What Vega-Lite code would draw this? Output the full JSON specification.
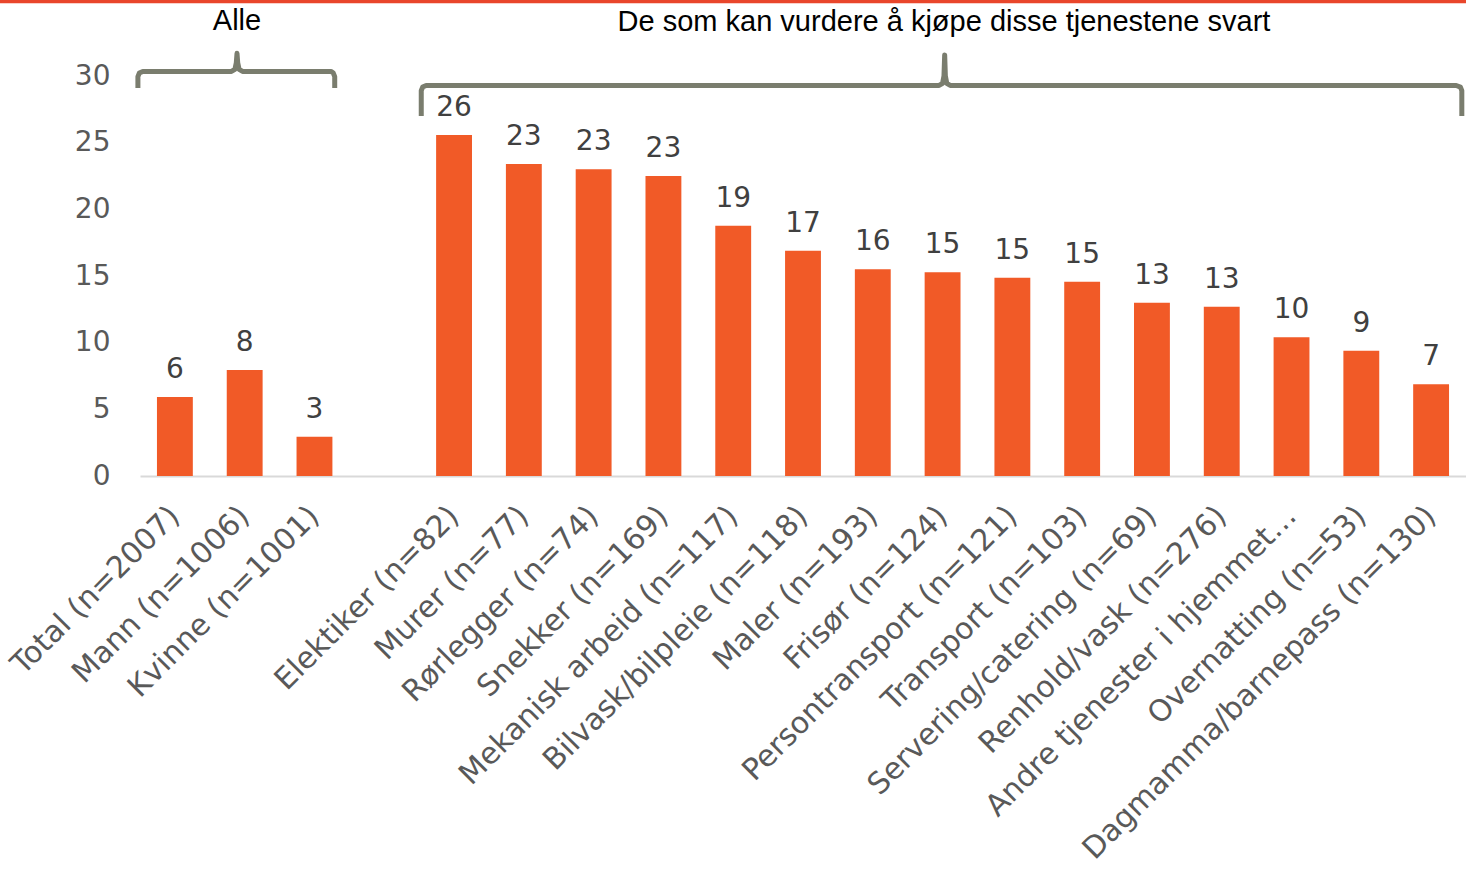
{
  "$schema": "https://vega.github.io/schema/vega-lite/v6.json",
  "autosize": "none",
  "width": 1326,
  "height": 400,
  "padding": {"left": 140, "top": 76, "right": 0, "bottom": 396},
  "config": {"view": {"stroke": null}, "font": "DejaVu Sans"},
  "datasets": {
    "bars": [
      {"kategori": "Total (n=2007)", "verdi": 5.93, "etikett": "6"},
      {"kategori": "Mann (n=1006)", "verdi": 7.95, "etikett": "8"},
      {"kategori": "Kvinne (n=1001)", "verdi": 2.94, "etikett": "3"},
      {"kategori": "Elektiker (n=82)", "verdi": 25.58, "etikett": "26"},
      {"kategori": "Murer (n=77)", "verdi": 23.4, "etikett": "23"},
      {"kategori": "Rørlegger (n=74)", "verdi": 23.0, "etikett": "23"},
      {"kategori": "Snekker (n=169)", "verdi": 22.5, "etikett": "23"},
      {"kategori": "Mekanisk arbeid (n=117)", "verdi": 18.77, "etikett": "19"},
      {"kategori": "Bilvask/bilpleie (n=118)", "verdi": 16.9, "etikett": "17"},
      {"kategori": "Maler (n=193)", "verdi": 15.5, "etikett": "16"},
      {"kategori": "Frisør (n=124)", "verdi": 15.28, "etikett": "15"},
      {"kategori": "Persontransport (n=121)", "verdi": 14.87, "etikett": "15"},
      {"kategori": "Transport (n=103)", "verdi": 14.57, "etikett": "15"},
      {"kategori": "Servering/catering (n=69)", "verdi": 13.0, "etikett": "13"},
      {"kategori": "Renhold/vask (n=276)", "verdi": 12.7, "etikett": "13"},
      {"kategori": "Andre tjenester i hjemmet…", "verdi": 10.4, "etikett": "10"},
      {"kategori": "Overnatting (n=53)", "verdi": 9.4, "etikett": "9"},
      {"kategori": "Dagmamma/barnepass (n=130)", "verdi": 6.88, "etikett": "7"}
    ],
    "brackets": [
      {"gruppe": "Alle", "rekkefolge": 1, "x": -0.03, "y": 29.1},
      {"gruppe": "Alle", "rekkefolge": 2, "x": -0.03, "y": 29.95},
      {"gruppe": "Alle", "rekkefolge": 3, "x": -0.01, "y": 30.22},
      {"gruppe": "Alle", "rekkefolge": 4, "x": 0.04, "y": 30.34},
      {"gruppe": "Alle", "rekkefolge": 5, "x": 1.31, "y": 30.34},
      {"gruppe": "Alle", "rekkefolge": 6, "x": 1.36, "y": 30.5},
      {"gruppe": "Alle", "rekkefolge": 7, "x": 1.38, "y": 31.0},
      {"gruppe": "Alle", "rekkefolge": 8, "x": 1.39, "y": 31.7},
      {"gruppe": "Alle", "rekkefolge": 9, "x": 1.40, "y": 31.0},
      {"gruppe": "Alle", "rekkefolge": 10, "x": 1.42, "y": 30.5},
      {"gruppe": "Alle", "rekkefolge": 11, "x": 1.47, "y": 30.34},
      {"gruppe": "Alle", "rekkefolge": 12, "x": 2.74, "y": 30.34},
      {"gruppe": "Alle", "rekkefolge": 13, "x": 2.77, "y": 30.22},
      {"gruppe": "Alle", "rekkefolge": 14, "x": 2.79, "y": 29.95},
      {"gruppe": "Alle", "rekkefolge": 15, "x": 2.79, "y": 29.1},
      {"gruppe": "Svart", "rekkefolge": 1, "x": 4.03, "y": 27.0},
      {"gruppe": "Svart", "rekkefolge": 2, "x": 4.03, "y": 28.9},
      {"gruppe": "Svart", "rekkefolge": 3, "x": 4.05, "y": 29.17},
      {"gruppe": "Svart", "rekkefolge": 4, "x": 4.10, "y": 29.29},
      {"gruppe": "Svart", "rekkefolge": 5, "x": 11.45, "y": 29.29},
      {"gruppe": "Svart", "rekkefolge": 6, "x": 11.50, "y": 29.45},
      {"gruppe": "Svart", "rekkefolge": 7, "x": 11.52, "y": 30.0},
      {"gruppe": "Svart", "rekkefolge": 8, "x": 11.53, "y": 31.58},
      {"gruppe": "Svart", "rekkefolge": 9, "x": 11.54, "y": 30.0},
      {"gruppe": "Svart", "rekkefolge": 10, "x": 11.56, "y": 29.45},
      {"gruppe": "Svart", "rekkefolge": 11, "x": 11.61, "y": 29.29},
      {"gruppe": "Svart", "rekkefolge": 12, "x": 18.86, "y": 29.29},
      {"gruppe": "Svart", "rekkefolge": 13, "x": 18.92, "y": 29.17},
      {"gruppe": "Svart", "rekkefolge": 14, "x": 18.94, "y": 28.9},
      {"gruppe": "Svart", "rekkefolge": 15, "x": 18.94, "y": 27.0}
    ],
    "titler": [
      {"tekst": "Alle", "x": 1.39, "y": 34.1},
      {"tekst": "De som kan vurdere å kjøpe disse tjenestene svart", "x": 11.52, "y": 34.05}
    ],
    "topplinje": [
      {"x": -2.1, "x2": 19.3, "y": 35.6}
    ]
  },
  "resolve": {"scale": {"x": "independent"}},
  "layer": [
    {
      "data": {"name": "bars"},
      "layer": [
        {
          "mark": {"type": "bar", "color": "#F15A27"},
          "encoding": {
            "x": {
              "field": "kategori",
              "type": "nominal",
              "sort": null,
              "scale": {
                "domain": ["Total (n=2007)", "Mann (n=1006)", "Kvinne (n=1001)", "_gap", "Elektiker (n=82)", "Murer (n=77)", "Rørlegger (n=74)", "Snekker (n=169)", "Mekanisk arbeid (n=117)", "Bilvask/bilpleie (n=118)", "Maler (n=193)", "Frisør (n=124)", "Persontransport (n=121)", "Transport (n=103)", "Servering/catering (n=69)", "Renhold/vask (n=276)", "Andre tjenester i hjemmet…", "Overnatting (n=53)", "Dagmamma/barnepass (n=130)"],
                "paddingInner": 0.486,
                "paddingOuter": 0.243
              },
              "axis": {
                "title": null,
                "labelAngle": -45,
                "labelAlign": "right",
                "labelBaseline": "middle",
                "labelPadding": 35,
                "labelFontSize": 30,
                "labelColor": "#595959",
                "labelLimit": 0,
                "labelOverlap": false,
                "labelExpr": "datum.value == '_gap' ? '' : datum.value",
                "ticks": false,
                "domainColor": "#D9D9D9",
                "domainWidth": 2,
                "grid": false
              }
            },
            "y": {
              "field": "verdi",
              "type": "quantitative",
              "scale": {"domain": [0, 30], "nice": false},
              "axis": {
                "title": null,
                "values": [0, 5, 10, 15, 20, 25, 30],
                "domain": false,
                "ticks": false,
                "grid": false,
                "labelFontSize": 28,
                "labelColor": "#595959",
                "labelPadding": 30
              }
            }
          }
        },
        {
          "mark": {"type": "text", "fontSize": 28, "color": "#404040", "baseline": "alphabetic", "dy": -19},
          "encoding": {
            "x": {"field": "kategori", "type": "nominal", "sort": null},
            "y": {"field": "verdi", "type": "quantitative"},
            "text": {"field": "etikett"}
          }
        }
      ]
    },
    {
      "data": {"name": "brackets"},
      "mark": {"type": "line", "color": "#7A7D6E", "strokeWidth": 5, "strokeJoin": "round", "clip": false},
      "encoding": {
        "x": {"field": "x", "type": "quantitative", "scale": {"domain": [0, 19], "nice": false, "zero": false}, "axis": null},
        "y": {"field": "y", "type": "quantitative", "scale": {"domain": [0, 30], "nice": false}},
        "detail": {"field": "gruppe"},
        "order": {"field": "rekkefolge"}
      }
    },
    {
      "data": {"name": "titler"},
      "mark": {"type": "text", "font": "Liberation Sans", "fontSize": 29, "color": "#000000", "baseline": "middle", "align": "center"},
      "encoding": {
        "x": {"field": "x", "type": "quantitative", "scale": {"domain": [0, 19], "nice": false, "zero": false}, "axis": null},
        "y": {"field": "y", "type": "quantitative", "scale": {"domain": [0, 30], "nice": false}},
        "text": {"field": "tekst"}
      }
    },
    {
      "data": {"name": "topplinje"},
      "mark": {"type": "rule", "color": "#E9462B", "strokeWidth": 4},
      "encoding": {
        "x": {"field": "x", "type": "quantitative", "scale": {"domain": [0, 19], "nice": false, "zero": false}, "axis": null},
        "x2": {"field": "x2"},
        "y": {"field": "y", "type": "quantitative", "scale": {"domain": [0, 30], "nice": false}}
      }
    }
  ]
}
